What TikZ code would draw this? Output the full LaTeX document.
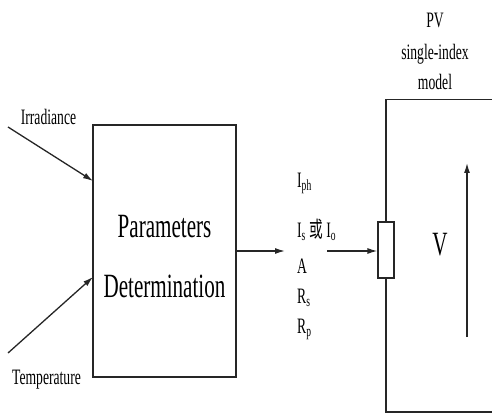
\documentclass[tikz,border=0pt]{standalone}
\usepackage{fontspec}
\setmainfont{Liberation Serif}[FakeStretch=0.62]
\newfontfamily\cjkfont{Noto Sans CJK SC}[FakeStretch=0.62]
\usetikzlibrary{arrows.meta}
\begin{document}
\begin{tikzpicture}[x=1pt,y=-1pt,
  line/.style={line width=1.3pt,draw=black!85},
  arr/.style={line, -{Latex[length=10pt,width=6pt]}},
  small/.style={font=\fontsize{22}{25}\selectfont, inner sep=0pt, anchor=base},
  big/.style={font=\fontsize{34}{40}\selectfont, inner sep=0pt, anchor=base},
  boxst/.style={line, line width=1.2pt, rectangle, inner sep=0pt, fill=white}]
\useasboundingbox (0,0) rectangle (492,414);
% main block
\node[boxst, minimum width=143pt, minimum height=252pt] (pd) at (164.5,251) {};
\node[big] (t1) at (164.5,237) {Parameters};
\node[big] (t2) at (164.5,297) {Determination};
% inputs
\node[small] (irr) at (48.5,125) {Irradiance};
\node[small] (tmp) at (46.5,384) {Temperature};
\coordinate (i0) at (8,127);
\coordinate (i1) at (93,181);
\coordinate (j0) at (8,353);
\coordinate (j1) at (93,277);
\draw[arr] (i0) -- (i1);
\draw[arr] (j0) -- (j1);
% output arrow
\coordinate (o1) at (285,251);
\draw[arr] (pd.east) -- (o1);
% parameter labels
\node[small, anchor=base west] (p1) at (297,187) {I\textsubscript{ph}};
\node[small, anchor=base west] (p2) at (297,237) {I\textsubscript{s} {\cjkfont 或} I\textsubscript{o}};
\node[small, anchor=base west] (p3) at (297,273) {A};
\node[small, anchor=base west] (p4) at (297,303) {R\textsubscript{s}};
\node[small, anchor=base west] (p5) at (297,333) {R\textsubscript{p}};
% second arrow and resistor
\node[boxst, minimum width=16pt, minimum height=56pt] (res) at (386,250) {};
\coordinate (a0) at (327,251);
\draw[arr] (a0) -- (res.west |- a0);
% PV model frame
\coordinate (tl) at (386,99.5);
\coordinate (tr) at (492,99.5);
\coordinate (bl) at (386,412);
\coordinate (br) at (492,412);
\draw[line] (tr) -- (tl) -- (res.north);
\draw[line] (res.south) -- (bl) -- (br);
\node[small] (pv1) at (435,28) {PV};
\node[small] (pv2) at (435,60) {single-index};
\node[small] (pv3) at (435,90) {model};
% voltage
\coordinate (v0) at (467,337);
\coordinate (v1) at (467,163);
\draw[arr] (v0) -- (v1);
\node[big] (vl) at (440,255) {V};
\end{tikzpicture}
\end{document}
